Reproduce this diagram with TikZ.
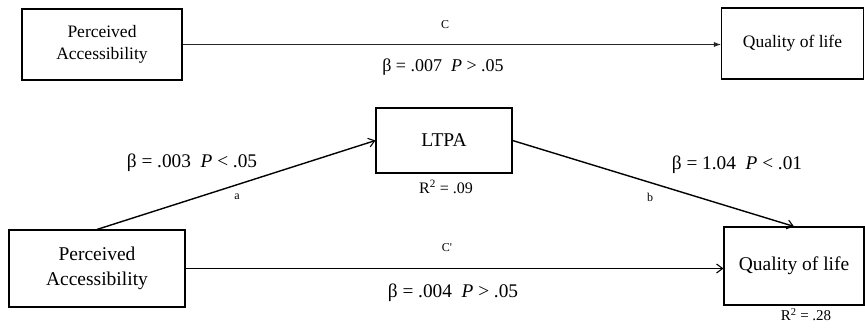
\documentclass[tikz,border=0pt]{standalone}
\usepackage{fontspec}
\setmainfont{Liberation Serif}
\newfontfamily\plainserif{Liberation Serif}
\usetikzlibrary{arrows.meta}
\tikzset{
  box/.style={draw=black, line width=1.1pt, inner sep=0pt, align=center},
  thinline/.style={draw=black!85, line width=0.8pt, -{Latex[length=7pt,width=5pt]}},
  thickline/.style={draw=black, line width=1.4pt, -{Straight Barb[length=6pt,width=9pt,line width=1.1pt]}},
  big/.style={font=\fontsize{19.5}{25}\selectfont},
  mid/.style={font=\fontsize{17.5}{22}\selectfont},
  lab/.style={font=\fontsize{19.3}{22}\selectfont, inner sep=0pt},
  rlab/.style={font=\fontsize{16}{19}\selectfont, inner sep=0pt},
  tiny/.style={font=\fontsize{12}{14}\selectfont, inner sep=0pt},
}
\begin{document}
\begin{tikzpicture}[x=1pt,y=-1pt]
\useasboundingbox (0,0) rectangle (865,334);
% top model
\node[box, mid, minimum width=160pt, minimum height=71pt] (tl) at (102,44.5) {Perceived\\Accessibility};
\node[box, mid, minimum width=142pt, minimum height=71pt] (tr) at (792.5,43.5) {Quality of life};
\draw[thinline] (tl.east) -- (tl.east -| tr.west);
\node[tiny] (lc) at (445,25) {C};
\node[lab, font=\fontsize{18}{21}\selectfont] (lbc) at (443,67) {β = .007\ \ \textit{P} > .05};
% bottom model
\node[box, big, minimum width=176pt, minimum height=77pt] (bl) at (97,268.5) {Perceived\\Accessibility};
\node[box, big, minimum width=136pt, minimum height=65pt] (m) at (444,140.5) {LTPA};
\node[box, big, minimum width=140pt, minimum height=78pt] (br) at (794,266) {Quality of life};
\draw[thickline] (bl.north) -- (m.west);
\draw[thickline] (m.east) -- (br.north);
\draw[thickline] (bl.east) -- (bl.east -| br.west);
\node[lab] (la) at (192,163) {β = .003\ \ \textit{P} < .05};
\node[tiny] (a) at (237,197) {a};
\node[rlab] (r1) at (446,187) {R\textsuperscript{2} = .09};
\node[tiny] (b) at (650,197) {b};
\node[lab] (lb) at (737,165) {β = 1.04\ \ \textit{P} < .01};
\node[tiny] (cp) at (447,248) {\plainserif C'};
\node[lab] (lcp) at (453,293) {β = .004\ \ \textit{P} > .05};
\node[rlab, font=\fontsize{15}{18}\selectfont] (r2) at (806,315) {R\textsuperscript{2} = .28};
\end{tikzpicture}
\end{document}
